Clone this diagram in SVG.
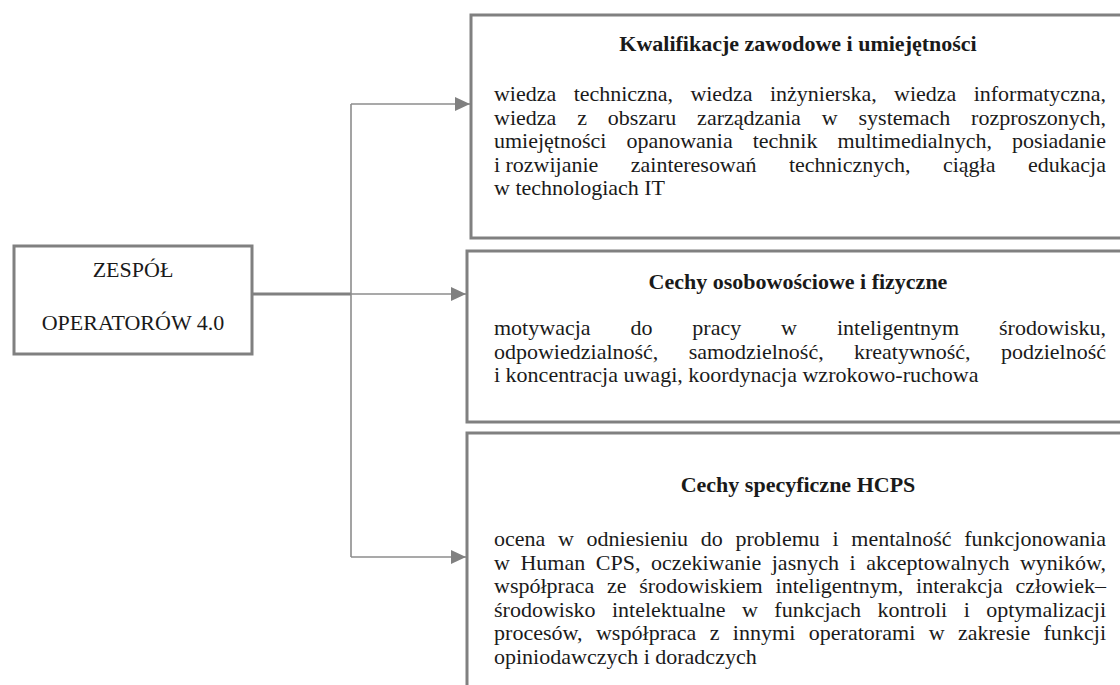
<svg xmlns="http://www.w3.org/2000/svg" width="1120" height="685" viewBox="0 0 1120 685">
<defs>
<style>
.box{fill:#fff;stroke:#808080;stroke-width:3}
.conn{fill:none;stroke:#8c8c8c;stroke-width:1.6}
.main{fill:none;stroke:#808080;stroke-width:3}
.t{font-family:"Liberation Serif","Times New Roman",serif;font-size:22px;fill:#1a1a1a}
.h{font-weight:bold;text-anchor:middle}
.c{text-anchor:middle}
</style>
<marker id="ah" markerUnits="userSpaceOnUse" markerWidth="16" markerHeight="16" refX="15" refY="7" orient="auto">
<path d="M0,0 L15,7 L0,14 z" fill="#808080"/>
</marker>
</defs>
<rect width="1120" height="685" fill="#fff"/>

<g id="connectors">
<path class="main" d="M252,294 H351"/>
<path class="conn" d="M351,104 V557"/>
<path class="conn" d="M351,104 H470" marker-end="url(#ah)"/>
<path class="conn" d="M351,294 H466" marker-end="url(#ah)"/>
<path class="conn" d="M351,557 H466" marker-end="url(#ah)"/>
</g>

<g id="node-zespol">
<rect class="box" x="14" y="246" width="238" height="108"/>
<text class="t c" x="133" y="277">ZESPÓŁ</text>
<text class="t c" x="133" y="330">OPERATORÓW 4.0</text>
</g>

<g id="node-kwalifikacje">
<rect class="box" x="471" y="15" width="670" height="223"/>
<text class="t h" x="798" y="51">Kwalifikacje zawodowe i umiejętności</text>
<text class="t" x="494" y="101" word-spacing="12" textLength="612" lengthAdjust="spacing">wiedza techniczna, wiedza inżynierska, wiedza informatyczna,</text>
<text class="t" x="494" y="124.5" word-spacing="15.4" textLength="612" lengthAdjust="spacing">wiedza z obszaru zarządzania w systemach rozproszonych,</text>
<text class="t" x="494" y="148" word-spacing="14.5" textLength="612" lengthAdjust="spacing">umiejętności opanowania technik multimedialnych, posiadanie</text>
<text class="t" x="494" y="171.5">i</text>
<text class="t" x="505.5" y="171.5" word-spacing="27" textLength="600.5" lengthAdjust="spacing">rozwijanie zainteresowań technicznych, ciągła edukacja</text>
<text class="t" x="494" y="195">w technologiach IT</text>
</g>

<g id="node-cechy-osobowosciowe">
<rect class="box" x="467" y="251" width="670" height="171"/>
<text class="t h" x="798" y="289">Cechy osobowościowe i fizyczne</text>
<text class="t" x="494" y="335" word-spacing="34.4" textLength="612" lengthAdjust="spacing">motywacja do pracy w inteligentnym środowisku,</text>
<text class="t" x="494" y="358.5" word-spacing="24.8" textLength="612" lengthAdjust="spacing">odpowiedzialność, samodzielność, kreatywność, podzielność</text>
<text class="t" x="494" y="382">i koncentracja uwagi, koordynacja wzrokowo-ruchowa</text>
</g>

<g id="node-cechy-hcps">
<rect class="box" x="467" y="433" width="670" height="270"/>
<text class="t h" x="798" y="492">Cechy specyficzne HCPS</text>
<text class="t" x="494" y="546" word-spacing="7.2" textLength="612" lengthAdjust="spacing">ocena w odniesieniu do problemu i mentalność funkcjonowania</text>
<text class="t" x="494" y="569.5" word-spacing="5" textLength="612" lengthAdjust="spacing">w Human CPS, oczekiwanie jasnych i akceptowalnych wyników,</text>
<text class="t" x="494" y="593" word-spacing="7.3" textLength="612" lengthAdjust="spacing">współpraca ze środowiskiem inteligentnym, interakcja człowiek–</text>
<text class="t" x="494" y="616.5" word-spacing="10.9" textLength="612" lengthAdjust="spacing">środowisko intelektualne w funkcjach kontroli i optymalizacji</text>
<text class="t" x="494" y="640" word-spacing="7.8" textLength="612" lengthAdjust="spacing">procesów, współpraca z innymi operatorami w zakresie funkcji</text>
<text class="t" x="494" y="663.5">opiniodawczych i doradczych</text>
</g>
</svg>
